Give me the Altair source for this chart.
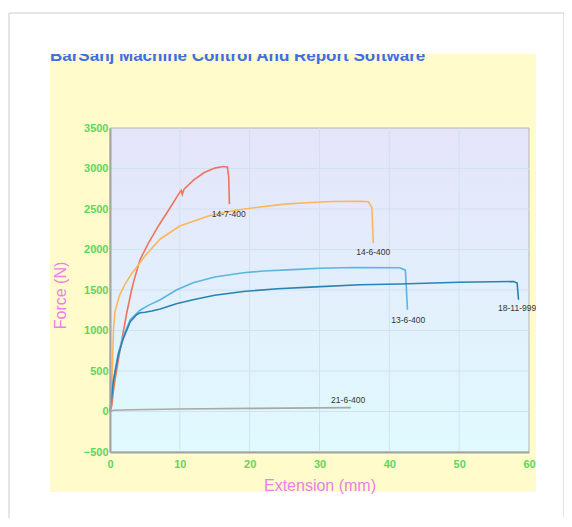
import altair as alt
import pandas as pd

# ---------------- data ----------------
names = ["14-7-400", "14-6-400", "13-6-400", "18-11-999", "21-6-400"]
colors = ["#F2735C", "#FDB65A", "#5BB5DF", "#2A82B2", "#A8A8A8"]

red_x = [0, 0.24, 0.6, 1.2, 1.7, 2.4, 3.1, 3.5, 4.3, 5.5, 7.0, 8.5, 9.8, 10.2, 10.35, 10.6, 12.0, 13.5, 15.0, 16.2, 16.8, 17.0, 17.1]
red_y = [0, 64, 330, 640, 886, 1219, 1503, 1640, 1874, 2080, 2300, 2500, 2680, 2730, 2680, 2745, 2860, 2950, 3005, 3025, 3020, 2900, 2560]

orange_x = [0, 0.1, 0.24, 0.5, 0.7, 1.4, 2.2, 3.0, 3.8, 5.0, 7.2, 10.0, 14.3, 18.0, 21.5, 25.0, 28.7, 32.0, 35.8, 37.0, 37.5, 37.7]
orange_y = [0, 120, 270, 1010, 1230, 1440, 1580, 1690, 1780, 1920, 2130, 2290, 2420, 2485, 2525, 2560, 2580, 2592, 2595, 2590, 2520, 2080]

lblue_x = [0, 0.5, 1.2, 1.9, 2.9, 4.3, 5.5, 7.2, 9.5, 11.9, 15.0, 19.1, 22.0, 26.2, 30.0, 35.0, 41.5, 42.3, 42.6]
lblue_y = [0, 393, 726, 927, 1133, 1250, 1310, 1380, 1500, 1589, 1660, 1712, 1735, 1752, 1768, 1778, 1775, 1745, 1255]

dblue_x = [0, 0.5, 1.2, 1.9, 2.9, 3.8, 4.3, 5.0, 6.0, 7.2, 9.5, 11.9, 15.0, 19.1, 24.0, 28.7, 35.8, 41.5, 50.0, 57.8, 58.3, 58.5]
dblue_y = [0, 380, 700, 900, 1110, 1195, 1219, 1225, 1240, 1265, 1330, 1380, 1435, 1482, 1515, 1536, 1564, 1575, 1595, 1605, 1585, 1380]

gray_x = [0, 0.5, 3.0, 10.0, 20.0, 30.0, 34.5]
gray_y = [0, 15, 22, 30, 38, 45, 48]

label_x = [17.0, 37.7, 42.7, 58.3, 34.1]
label_y = [2440, 1973, 1134, 1282, 148]

x_ticks = [0, 10, 20, 30, 40, 50, 60]
y_ticks = [-500, 0, 500, 1000, 1500, 2000, 2500, 3000, 3500]

title_text = "BarSanj Machine Control And Report Software"

# ---------------- tables ----------------
rows = []
for name, xs, ys in zip(names, [red_x, orange_x, lblue_x, dblue_x, gray_x],
                        [red_y, orange_y, lblue_y, dblue_y, gray_y]):
    for i, (a, b) in enumerate(zip(xs, ys)):
        rows.append({"series": name, "x": a, "y": b, "idx": i})
curves = pd.DataFrame(rows)
labels = pd.DataFrame({"series": names, "x": label_x, "y": label_y})
xgrid = pd.DataFrame({"x": x_ticks[1:-1]})
ygrid = pd.DataFrame({"y": y_ticks[1:-1]})
one = pd.DataFrame({"a": [0]})

W, H = 419, 324
FONT = "Liberation Sans"
LABEL_COLOR = "#5CD65C"
TITLE_COLOR = "#EA80EA"
GRID_COLOR = "#D0E2EE"


def prect(x, x2, y, y2, **kw):
    return alt.Chart(one).mark_rect(**kw).encode(
        x=alt.value(x), x2=alt.value(x2), y=alt.value(y), y2=alt.value(y2))


xscale = alt.Scale(domain=[0, 60], nice=False, zero=False)
yscale = alt.Scale(domain=[-500, 3500], nice=False, zero=False)

common_axis = dict(zindex=1, grid=False, ticks=False,
                   domainColor="#A3A3A3", domainWidth=2,
                   labelColor=LABEL_COLOR, labelFont=FONT, labelFontSize=11,
                   labelFontWeight="bold", labelFlush=False, labelOverlap=False,
                   titleColor=TITLE_COLOR, titleFont=FONT, titleFontSize=16,
                   titleFontWeight="normal")

shadow = prect(-99, 457, -113, 400, color="#e2e2e2")
card = prect(-101, 454, -115, 398, color="white", stroke="#cdcdcd", strokeWidth=1)
yellow = prect(-60, 426, -74, 364, color="#FFFBCB")
plotbg = prect(0, W, 0, H, stroke="#b5b5b5", strokeWidth=1,
               color=alt.LinearGradient(gradient="linear", x1=0, y1=0, x2=0, y2=1,
                                        stops=[alt.GradientStop(offset=0, color="#E5E4FA"),
                                               alt.GradientStop(offset=1, color="#E0FAFE")]))
title = alt.Chart(one).mark_text(text=title_text, align="left", baseline="alphabetic",
                                 fontSize=17, fontWeight="bold", font=FONT,
                                 color="#3D6EE8").encode(x=alt.value(-60), y=alt.value(-67))
cover_top = prect(-64, 430, -113, -74, color="white")

vgrid = alt.Chart(xgrid).mark_rule(color=GRID_COLOR, strokeWidth=1).encode(
    x=alt.X("x:Q", scale=xscale), y=alt.value(0), y2=alt.value(H))
hgrid = alt.Chart(ygrid).mark_rule(color=GRID_COLOR, strokeWidth=1).encode(
    y=alt.Y("y:Q", scale=yscale), x=alt.value(0), x2=alt.value(W))

lines = alt.Chart(curves).mark_line(strokeWidth=1.6).encode(
    x=alt.X("x:Q", scale=xscale,
            axis=alt.Axis(values=x_ticks, title="Extension (mm)", titleY=38,
                          titleBaseline="alphabetic", labelPadding=6, format="d",
                          **common_axis)),
    y=alt.Y("y:Q", scale=yscale,
            axis=alt.Axis(values=y_ticks, title="Force (N)", titleX=-50, titleY=167,
                          titleBaseline="middle", titleAlign="center", labelPadding=2,
                          format="d", **common_axis)),
    color=alt.Color("series:N", scale=alt.Scale(domain=names, range=colors), legend=None),
    order="idx:Q",
)

texts = alt.Chart(labels).mark_text(fontSize=8.5, font=FONT, color="#333333",
                                    align="center", baseline="middle").encode(
    x=alt.X("x:Q", scale=xscale), y=alt.Y("y:Q", scale=yscale), text="series:N")

cover_right = prect(426.5, 452, -74, 366, color="white")

chart = alt.layer(shadow, card, yellow, plotbg, title, cover_top, vgrid, hgrid,
                  lines, texts, cover_right).properties(
    width=W, height=H,
    padding={"left": 102, "top": 120, "right": 35, "bottom": 66},
    autosize=alt.AutoSizeParams(type="none"),
    background="white",
).configure_view(stroke=None)

chart.save("out.html", embed_options={"renderer": "svg", "actions": False})
